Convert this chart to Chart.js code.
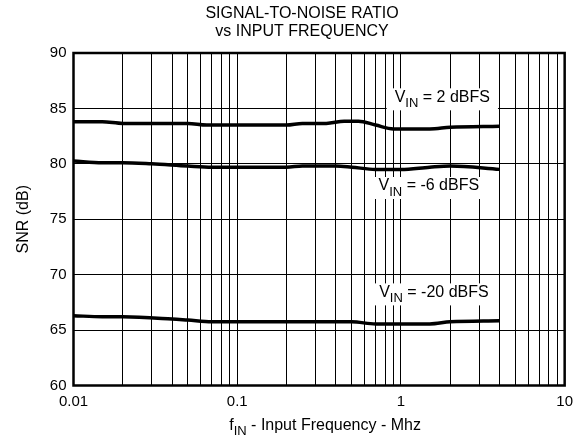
<!DOCTYPE html>
<html>
<head>
<meta charset="utf-8">
<script src="https://cdn.jsdelivr.net/npm/chart.js@4.4.0/dist/chart.umd.min.js"></script>
<style>
  html, body { margin: 0; padding: 0; background: #fff; }
</style>
</head>
<body>
<canvas id="snrChart" width="580" height="436"></canvas>
<script>
// axis ticks
const freqTicks = [
  0.01, 0.02, 0.03, 0.04, 0.05, 0.06, 0.07, 0.08, 0.09,
  0.1, 0.2, 0.3, 0.4, 0.5, 0.6, 0.7, 0.8, 0.9,
  1, 2, 3, 4, 5, 6, 7, 8, 9, 10
];
const freqLabels = [0.01, 0.1, 1, 10];
const snrTicks = [60, 65, 70, 75, 80, 85, 90];

// VIN = 2 dBFS
const freqA = [0.01, 0.015, 0.02, 0.05, 0.065, 0.2, 0.25, 0.35, 0.45, 0.55, 0.7, 0.9, 1.5, 2, 4];
const snrA  = [83.8, 83.8, 83.65, 83.65, 83.5, 83.5, 83.65, 83.65, 83.85, 83.85, 83.5, 83.15, 83.15, 83.3, 83.4];

// VIN = -6 dBFS
const freqB = [0.01, 0.015, 0.02, 0.03, 0.05, 0.07, 0.2, 0.25, 0.4, 0.5, 0.7, 1, 1.5, 2, 4];
const snrB  = [80.25, 80.1, 80.1, 80.0, 79.8, 79.7, 79.7, 79.8, 79.8, 79.7, 79.5, 79.5, 79.7, 79.8, 79.5];

// VIN = -20 dBFS
const freqC = [0.01, 0.015, 0.02, 0.04, 0.05, 0.07, 0.5, 0.7, 1.5, 2, 4];
const snrC  = [66.3, 66.2, 66.2, 66.0, 65.9, 65.75, 65.75, 65.55, 65.55, 65.75, 65.85];

const titleLines = ['SIGNAL-TO-NOISE RATIO', 'vs INPUT FREQUENCY'];

// curve labels: [main, subscript, rest]
const curveLabels = [
  ['V', 'IN', ' = 2 dBFS'],
  ['V', 'IN', ' = -6 dBFS'],
  ['V', 'IN', ' = -20 dBFS']
];
const labelAnchors = [
  { x: 1.79, y: 86.0 },
  { x: 1.48, y: 78.0 },
  { x: 1.59, y: 68.4 }
];

const FONT = "'Liberation Sans', Arial, sans-serif";

const toPoints = (xs, ys) => xs.map((x, i) => ({ x: x, y: ys[i] }));

function subText(ctx, cx, cy, parts, size) {
  const [main, sub, rest] = parts;
  const subSize = Math.round(size * 0.8);
  ctx.font = size + 'px ' + FONT;
  const w1 = ctx.measureText(main).width;
  const w3 = ctx.measureText(rest).width;
  ctx.font = subSize + 'px ' + FONT;
  const w2 = ctx.measureText(sub).width;
  const total = w1 + w2 + w3;
  const x = cx - total / 2;
  ctx.textBaseline = 'middle';
  ctx.textAlign = 'left';
  ctx.fillStyle = '#000';
  ctx.font = size + 'px ' + FONT;
  ctx.fillText(main, x, cy);
  ctx.font = subSize + 'px ' + FONT;
  ctx.fillText(sub, x + w1, cy + size * 0.38);
  ctx.font = size + 'px ' + FONT;
  ctx.fillText(rest, x + w1 + w2, cy);
  return total;
}

function subWidth(ctx, parts, size) {
  ctx.font = size + 'px ' + FONT;
  let w = ctx.measureText(parts[0] + parts[2]).width;
  ctx.font = Math.round(size * 0.8) + 'px ' + FONT;
  return w + ctx.measureText(parts[1]).width;
}

const curveLabelPlugin = {
  id: 'curveLabels',
  afterDraw(chart) {
    const { ctx, chartArea, scales } = chart;
    ctx.save();
    // frame
    ctx.strokeStyle = '#000';
    ctx.lineWidth = 2.5;
    ctx.strokeRect(chartArea.left, chartArea.top, chartArea.right - chartArea.left, chartArea.bottom - chartArea.top);

    curveLabels.forEach((parts, i) => {
      const cx = scales.x.getPixelForValue(labelAnchors[i].x);
      const cy = scales.y.getPixelForValue(labelAnchors[i].y);
      const w = subWidth(ctx, parts, 16);
      ctx.fillStyle = '#fff';
      ctx.fillRect(cx - w / 2 - 8, cy - 9, w + 16, 22);
      subText(ctx, cx, cy, parts, 16);
    });

    // main title
    ctx.fillStyle = '#000';
    ctx.font = '16px ' + FONT;
    ctx.textAlign = 'center';
    ctx.textBaseline = 'middle';
    ctx.fillText(titleLines[0], 302, 14);
    ctx.fillText(titleLines[1], 302, 32);

    // x axis title with subscript
    const xc = (chartArea.left + chartArea.right) / 2 + 6;
    subText(ctx, xc, chartArea.bottom + 40, ['f', 'IN', ' - Input Frequency - Mhz'], 16);
    ctx.restore();
  }
};

const ctx = document.getElementById('snrChart').getContext('2d');
const lineStyle = {
  borderColor: '#000',
  borderWidth: 3.5,
  pointRadius: 0,
  fill: false,
  cubicInterpolationMode: 'monotone'
};

new Chart(ctx, {
  type: 'line',
  data: {
    datasets: [
      { label: 'VIN = 2 dBFS', data: toPoints(freqA, snrA), ...lineStyle },
      { label: 'VIN = -6 dBFS', data: toPoints(freqB, snrB), ...lineStyle },
      { label: 'VIN = -20 dBFS', data: toPoints(freqC, snrC), ...lineStyle }
    ]
  },
  options: {
    responsive: false,
    animation: false,
    layout: { padding: { top: 53, right: 15, bottom: 0, left: 0 } },
    plugins: {
      legend: { display: false },
      tooltip: { enabled: false },
      title: { display: false }
    },
    scales: {
      x: {
        type: 'logarithmic',
        min: 0.01,
        max: 10,
        afterBuildTicks: (scale) => {
          scale.ticks = freqTicks.map((v) => ({ value: v }));
        },
        afterFit: (scale) => { scale.height = 50.5; },
        grid: { color: '#000', lineWidth: 1, drawTicks: false },
        border: { display: false },
        ticks: {
          autoSkip: false,
          maxRotation: 0,
          padding: 7,
          color: '#000',
          font: { family: FONT, size: 15 },
          callback: (v) => (freqLabels.includes(v) ? String(v) : '')
        }
      },
      y: {
        min: 60,
        max: 90,
        afterBuildTicks: (scale) => {
          scale.ticks = snrTicks.map((v) => ({ value: v }));
        },
        afterFit: (scale) => { scale.width = 73.5; },
        grid: { color: '#000', lineWidth: 1, drawTicks: false },
        border: { display: false },
        title: {
          display: true,
          text: 'SNR (dB)',
          color: '#000',
          font: { family: FONT, size: 16 },
          padding: { top: 14, bottom: 0 }
        },
        ticks: {
          padding: 7,
          color: '#000',
          font: { family: FONT, size: 15 }
        }
      }
    }
  },
  plugins: [curveLabelPlugin]
});
</script>
</body>
</html>
